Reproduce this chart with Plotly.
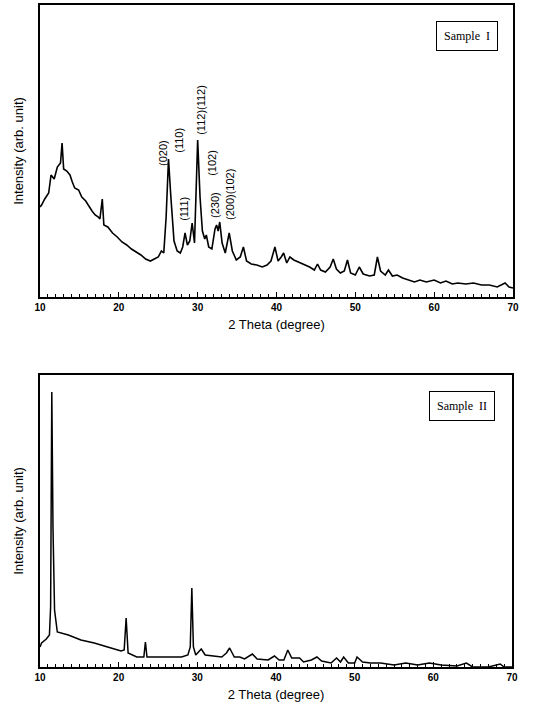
import plotly.graph_objects as go

# ---- Sample I data (2 theta in degree, intensity in arbitrary units) ----
theta_1 = [10.0, 10.2, 10.6, 11.1, 11.4, 11.8, 12.2, 12.6, 12.8, 13.0, 13.4, 13.8, 14.1, 14.4, 14.9,
           15.3, 15.8, 16.1, 16.6, 17.0, 17.4, 17.6, 17.9, 18.1, 18.6, 19.2, 19.8, 20.4, 21.0, 21.6,
           22.2, 22.8, 23.4, 24.0, 24.5, 25.0, 25.4, 25.7,
           26.0, 26.3, 26.6, 27.0, 27.4, 27.8, 28.1, 28.4, 28.7, 29.0, 29.3, 29.6, 30.0, 30.3, 30.6,
           30.9, 31.1, 31.4, 31.8, 32.2, 32.4, 32.6, 32.8, 33.1, 33.5, 34.0, 34.4, 34.9, 35.4, 35.8,
           36.2, 36.8, 37.5, 38.2, 38.8, 39.3, 39.8, 40.2, 40.6, 40.9, 41.3, 41.7, 42.2, 42.8, 43.5,
           44.2, 44.8, 45.2, 45.6, 46.2, 46.8, 47.2, 47.6, 48.1, 48.6, 49.0, 49.4, 50.0, 50.5, 51.0,
           51.8, 52.4, 52.8, 53.2, 53.8, 54.2, 54.7, 55.3, 56.0, 56.8, 57.5, 58.2, 59.0, 60.0, 60.8,
           61.5, 62.3, 63.0, 64.0, 65.0, 66.0, 67.0, 68.0, 69.0, 69.5, 70.0]
inten_1 = [90, 92, 98, 104, 122, 118, 130, 134, 154, 128, 126, 122, 115, 109, 107,
           100, 96, 92, 86, 82, 80, 78, 98, 72, 70, 64, 60, 55, 52, 48,
           45, 42, 38, 36, 38, 40, 46, 44,
           80, 138, 100, 56, 46, 44, 50, 64, 52, 56, 74, 54, 157, 100, 66,
           58, 62, 50, 48, 68, 72, 66, 75, 54, 44, 64, 46, 37, 40, 50,
           36, 33, 32, 30, 32, 36, 50, 36, 40, 44, 34, 40, 37, 35, 33,
           30, 27, 33, 27, 25, 30, 38, 28, 24, 26, 37, 24, 22, 30, 23,
           21, 22, 40, 26, 22, 27, 21, 22, 19, 17, 15, 17, 15, 17, 14,
           16, 13, 14, 13, 14, 12, 12, 10, 14, 10, 9]

# ---- Sample II data ----
theta_2 = [10.0, 10.2, 10.8, 11.2, 11.35, 11.5, 11.65, 11.85, 12.2, 13.6, 15.2, 16.9, 18.6, 20.3,
           20.7, 20.95, 21.2, 22.3, 23.2, 23.4, 23.6, 25.0, 26.5, 28.0, 28.8, 29.1, 29.3, 29.5,
           29.8, 30.5, 31.0, 32.0, 33.1, 33.7, 34.1, 34.7, 35.4, 36.0, 37.0, 37.6, 39.0, 39.8,
           40.4, 41.0, 41.5, 42.0, 43.0, 43.5, 44.5, 45.2, 45.8, 47.0, 47.7, 48.2, 48.6, 49.2,
           50.0, 50.3, 51.0, 52.0, 53.3, 55.0, 56.5, 58.0, 59.5, 61.0, 63.0, 64.2, 65.0, 67.0,
           68.5, 69.0, 70.0]
inten_2 = [20, 24, 28, 32, 60, 275, 140, 57, 35, 32, 27, 24, 20, 16,
           17, 49, 14, 10, 10, 25, 10, 10, 10, 10, 12, 20, 79, 20,
           12, 18, 12, 11, 10, 14, 19, 10, 10, 8, 13, 8, 7, 11,
           7, 7, 17, 9, 9, 5, 7, 10, 6, 4, 9, 5, 10, 4,
           4, 10, 5, 4, 4, 2, 4, 2, 4, 2, 1, 4, 0, 0,
           3, 0, 0]

# ---- peak labels (Sample I) ----
peak_labels = ["(020)", "(110)", "(111)", "(112)(112)", "(102)", "(230)", "(200)(102)"]
peak_theta = [25.6, 27.6, 28.25, 30.4, 31.8, 32.2, 34.1]
peak_level = [144, 157, 88, 187, 134, 92, 103]

W, H = 533, 712

fig = go.Figure()
fig.add_trace(go.Scatter(x=theta_1, y=inten_1, mode="lines",
                         line=dict(color="black", width=1.6), xaxis="x", yaxis="y",
                         showlegend=False))
fig.add_trace(go.Scatter(x=theta_2, y=inten_2, mode="lines",
                         line=dict(color="black", width=1.5), xaxis="x2", yaxis="y2",
                         showlegend=False))

def xax(domain, anchor):
    return dict(domain=domain, anchor=anchor, range=[10, 70], tickvals=[10, 20, 30, 40, 50, 60, 70],
                automargin=False,
                ticks="inside", ticklen=5, tickwidth=1.2, tickcolor="black",
                minor=dict(dtick=1, ticks="inside", ticklen=3, tickcolor="black", tickwidth=1),
                showline=True, linecolor="black", linewidth=1.5, mirror=True,
                showgrid=False, zeroline=False,
                tickfont=dict(family="Liberation Sans", size=10, color="black", weight="bold"),
                title=dict(text="2 Theta (degree)", standoff=8,
                           font=dict(family="Liberation Sans", size=13, color="black")))

def yax(domain, anchor):
    return dict(domain=domain, anchor=anchor, range=[0, 292], showticklabels=False, ticks="",
                automargin=False,
                showline=True, linecolor="black", linewidth=1.5, mirror=True,
                showgrid=False, zeroline=False,
                title=dict(text="Intensity (arb. unit)", standoff=12,
                           font=dict(family="Liberation Sans", size=13, color="black")))

fig.update_layout(
    width=W, height=H, margin=dict(l=0, r=0, t=0, b=0, autoexpand=False),
    paper_bgcolor="white", plot_bgcolor="white",
    xaxis=xax([40 / W, 513 / W], "y"), yaxis=yax([1 - 297 / H, 1 - 5 / H], "x"),
    xaxis2=xax([40 / W, 512 / W], "y2"), yaxis2=yax([1 - 667 / H, 1 - 375 / H], "x2"),
)

for lab, px, py in zip(peak_labels, peak_theta, peak_level):
    fig.add_annotation(x=px, y=py, xref="x", yref="y", text=lab, textangle=-90, showarrow=False,
                       font=dict(family="Liberation Sans", size=11, color="black"))

for txt, cx, cy in [("Sample  I", 467, 36.5), ("Sample  II", 462, 406)]:
    fig.add_annotation(x=cx / W, y=1 - cy / H, xref="paper", yref="paper", text=txt,
                       showarrow=False, xanchor="center", yanchor="middle",
                       font=dict(family="Liberation Serif", size=12, color="black"),
                       bordercolor="black", borderwidth=1, borderpad=7, bgcolor="white")

fig.write_html("out.html", config={"displayModeBar": False},
               post_script="document.body.style.margin='0';")
